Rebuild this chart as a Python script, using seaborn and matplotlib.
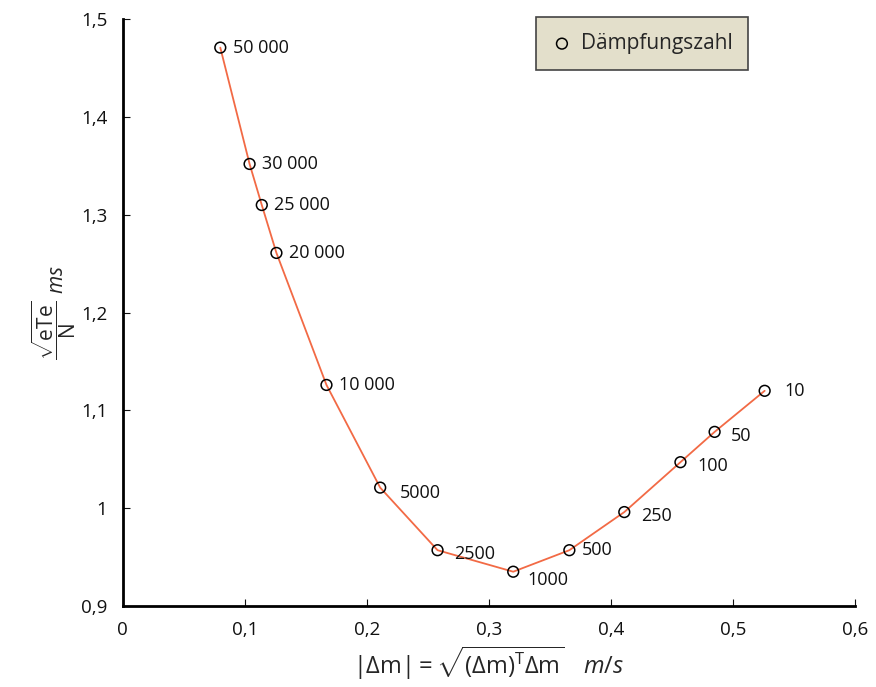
import matplotlib
matplotlib.use("Agg")
import matplotlib.pyplot as plt
import seaborn as sns
import pandas as pd
from matplotlib.ticker import FuncFormatter

# data
damping = ["50 000", "30 000", "25 000", "20 000", "10 000", "5000", "2500",
           "1000", "500", "250", "100", "50", "10"]
dm_norm = [0.080, 0.104, 0.114, 0.126, 0.167, 0.211, 0.258,
           0.320, 0.366, 0.411, 0.457, 0.485, 0.526]
residual = [1.471, 1.352, 1.310, 1.261, 1.126, 1.021, 0.957,
            0.935, 0.957, 0.996, 1.047, 1.078, 1.120]

df = pd.DataFrame({"dm": dm_norm, "res": residual, "label": damping})

sns.set_style("ticks")
plt.rcParams["font.family"] = ["Open Sans", "DejaVu Sans"]
plt.rcParams["mathtext.fontset"] = "custom"
plt.rcParams["mathtext.rm"] = "Open Sans"
plt.rcParams["mathtext.it"] = "Open Sans:italic"
plt.rcParams["mathtext.bf"] = "Open Sans:bold"

fig = plt.figure(figsize=(8.76, 6.87), dpi=100)
ax = fig.add_axes([0.140, 0.118, 0.836, 0.854])

sns.lineplot(data=df, x="dm", y="res", sort=False, color="#f26a45",
             linewidth=1.3, ax=ax, legend=False)
sns.scatterplot(data=df, x="dm", y="res", marker="o", s=60,
                facecolor="none", edgecolor="black", linewidth=1.1,
                label="Dämpfungszahl", ax=ax, zorder=3)

# point labels
for i, row in df.iterrows():
    dx, dy = 9, 0
    if row["label"] == "1000":
        dx, dy = 10, -6
    elif row["label"] == "2500":
        dx, dy = 12, -3
    elif row["label"] == "5000":
        dx, dy = 14, -4
    elif row["label"] == "10":
        dx, dy = 14, 0
    elif row["label"] in ("50", "100", "250"):
        dx, dy = 12, -3
    ax.annotate(row["label"], (row["dm"], row["res"]), xytext=(dx, dy),
                textcoords="offset points", ha="left", va="center",
                fontsize=13, color="#111111", fontweight="medium")

ax.set_xlim(0, 0.6)
ax.set_ylim(0.9, 1.5)
ax.set_xticks([0, 0.1, 0.2, 0.3, 0.4, 0.5, 0.6])
ax.set_yticks([0.9, 1.0, 1.1, 1.2, 1.3, 1.4, 1.5])
fmt = FuncFormatter(lambda v, p: f"{v:g}".replace(".", ","))
ax.xaxis.set_major_formatter(fmt)
ax.yaxis.set_major_formatter(fmt)
ax.tick_params(direction="in", length=5, width=0.8, labelsize=13.5, pad=11,
               colors="#111111")

sns.despine(ax=ax)
for s in ("left", "bottom"):
    ax.spines[s].set_linewidth(2.0)
    ax.spines[s].set_color("black")

ax.set_xlabel(r"$|\Delta\mathrm{m}| = \sqrt{(\Delta\mathrm{m})^{\mathrm{T}}\Delta\mathrm{m}}\quad\mathit{m/s}$",
              fontsize=17, labelpad=4)
ax.set_ylabel(r"$\dfrac{\sqrt{\mathrm{eTe}}}{\mathrm{N}}\ \mathit{ms}$",
              fontsize=15, labelpad=2)

leg = ax.legend(loc="upper right", bbox_to_anchor=(0.854, 1.003),
                borderaxespad=0, fontsize=15, frameon=True, fancybox=False,
                handletextpad=0.4, borderpad=0.75, handlelength=1.0)
leg.get_frame().set_facecolor("#e3dfcb")
leg.get_frame().set_edgecolor("#444444")
leg.get_frame().set_linewidth(1.2)
leg.get_frame().set_alpha(1)

fig.savefig("out.png", dpi=100)
